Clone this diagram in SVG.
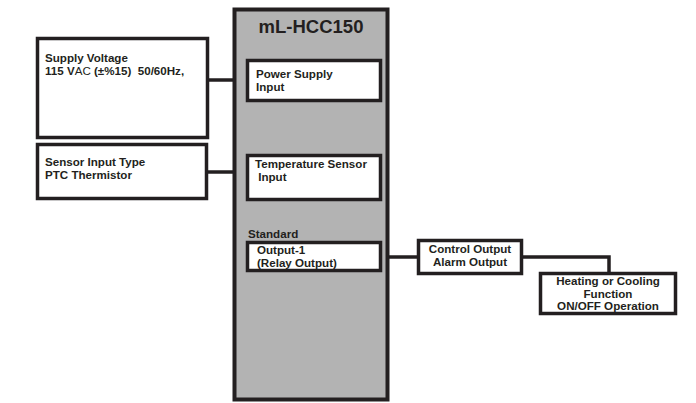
<svg xmlns="http://www.w3.org/2000/svg" width="696" height="403" viewBox="0 0 696 403">
<style>
.box{fill:#ffffff;stroke:#231f20;stroke-width:3.5}
.main{fill:#b3b3b3;stroke:#231f20;stroke-width:4}
.t{font-family:"Liberation Sans",Arial,sans-serif;font-weight:bold;font-size:11.6px;fill:#231f20;white-space:pre}
.c{text-anchor:middle}
.title{font-size:18.5px}
.conn{fill:none;stroke:#231f20;stroke-width:3.5}
</style>
<rect width="696" height="403" fill="#ffffff"/>
<g id="connectors">
<path class="conn" d="M208,80H234"/>
<path class="conn" d="M207,172H234"/>
<path class="conn" d="M388,257H419"/>
<path class="conn" d="M521,257H609V273"/>
</g>
<g id="mainBox">
<rect class="main" x="234.5" y="9.5" width="153" height="390"/>
<text class="t c title" x="311" y="33">mL-HCC150</text>
</g>
<g id="powerSupply">
<rect class="box" x="247.5" y="60.5" width="133" height="40"/>
<text class="t" x="256" y="78">Power Supply</text>
<text class="t" x="256" y="91">Input</text>
</g>
<g id="tempSensor">
<rect class="box" x="247.5" y="155.5" width="133" height="44"/>
<text class="t" x="255" y="168">Temperature Sensor</text>
<text class="t" x="255" y="181"> Input</text>
</g>
<g id="output1">
<text class="t" x="248" y="238">Standard</text>
<rect class="box" x="247.5" y="242.5" width="133" height="28"/>
<text class="t" x="257" y="254">Output-1</text>
<text class="t" x="257" y="267">(Relay Output)</text>
</g>
<g id="supplyVoltage">
<rect class="box" x="37.5" y="38.5" width="170" height="99"/>
<text class="t" x="45" y="62">Supply Voltage</text>
<text class="t" x="45" y="75">115 V<tspan font-weight="normal">AC</tspan> (±%15)  50/60Hz,</text>
</g>
<g id="sensorInput">
<rect class="box" x="37.5" y="144.5" width="169" height="54"/>
<text class="t" x="45" y="166">Sensor Input Type</text>
<text class="t" x="45" y="179">PTC Thermistor</text>
</g>
<g id="controlOutput">
<rect class="box" x="418.5" y="240.5" width="103" height="33"/>
<text class="t c" x="470" y="253">Control Output</text>
<text class="t c" x="470" y="266">Alarm Output</text>
</g>
<g id="heating">
<rect class="box" x="540.5" y="273.5" width="135" height="40"/>
<text class="t c" x="608" y="285">Heating or Cooling</text>
<text class="t c" x="608" y="297.5">Function</text>
<text class="t c" x="608" y="310">ON/OFF Operation</text>
</g>
</svg>
